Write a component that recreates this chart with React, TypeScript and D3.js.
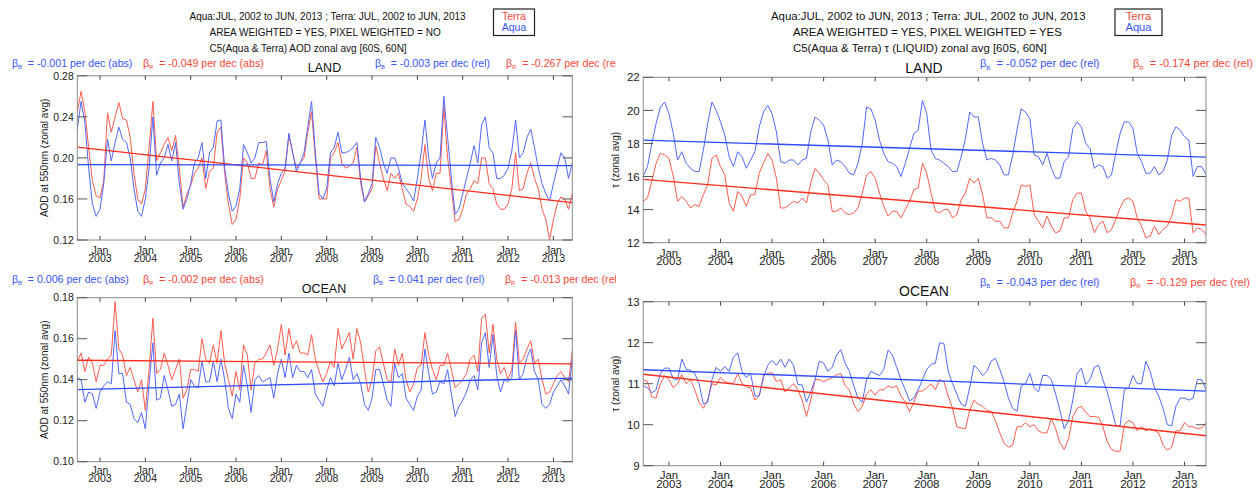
import React from 'react';
import * as d3 from 'd3';

// ---------- DATA ----------
const START_YEAR = 2002.5; // Jul 2002
const yearTicks = [2003, 2004, 2005, 2006, 2007, 2008, 2009, 2010, 2011, 2012, 2013];

const aodLandAqua = [
  0.228,0.255,0.235,0.19,0.155,0.143,0.15,0.175,0.218,0.197,
  0.215,0.23,0.218,0.215,0.2,0.17,0.148,0.143,0.16,0.19,
  0.24,0.183,0.195,0.2,0.213,0.197,0.215,0.175,0.15,0.16,
  0.175,0.195,0.2,0.215,0.18,0.205,0.21,0.236,0.237,0.19,
  0.165,0.148,0.153,0.17,0.213,0.205,0.195,0.2,0.215,0.215,
  0.216,0.18,0.157,0.175,0.185,0.19,0.224,0.205,0.187,0.195,
  0.205,0.23,0.255,0.205,0.165,0.16,0.17,0.205,0.21,0.225,
  0.205,0.205,0.207,0.21,0.215,0.18,0.157,0.165,0.175,0.22,
  0.21,0.195,0.185,0.2,0.2,0.19,0.175,0.17,0.165,0.158,
  0.18,0.205,0.237,0.2,0.18,0.195,0.2,0.26,0.22,0.18,
  0.145,0.15,0.165,0.18,0.195,0.212,0.195,0.232,0.24,0.21,
  0.205,0.18,0.18,0.183,0.19,0.207,0.237,0.2,0.205,0.22,
  0.228,0.21,0.19,0.175,0.165,0.158,0.175,0.19,0.205,0.2,
  0.18,0.195,
];
const aodLandTerra = [
  0.245,0.265,0.245,0.21,0.178,0.163,0.161,0.178,0.244,0.225,
  0.24,0.254,0.238,0.237,0.22,0.185,0.16,0.155,0.17,0.21,
  0.255,0.197,0.205,0.213,0.22,0.207,0.222,0.19,0.152,0.165,
  0.173,0.185,0.19,0.2,0.17,0.187,0.19,0.225,0.23,0.185,
  0.155,0.135,0.14,0.16,0.2,0.195,0.18,0.18,0.195,0.193,
  0.207,0.17,0.152,0.17,0.178,0.188,0.222,0.205,0.19,0.195,
  0.2,0.225,0.245,0.2,0.16,0.16,0.16,0.2,0.205,0.215,
  0.195,0.19,0.192,0.195,0.21,0.175,0.157,0.163,0.17,0.212,
  0.195,0.18,0.168,0.185,0.18,0.185,0.17,0.155,0.153,0.148,
  0.16,0.18,0.213,0.18,0.168,0.185,0.185,0.25,0.2,0.17,
  0.138,0.14,0.15,0.165,0.17,0.178,0.175,0.2,0.2,0.175,
  0.17,0.155,0.15,0.15,0.155,0.17,0.205,0.168,0.17,0.185,
  0.195,0.18,0.17,0.15,0.14,0.12,0.14,0.155,0.162,0.16,
  0.15,0.165,
];
const aodOceanAqua = [
  0.141,0.14,0.129,0.134,0.133,0.126,0.134,0.137,0.139,0.138,
  0.164,0.143,0.143,0.129,0.128,0.121,0.119,0.124,0.116,0.138,
  0.158,0.13,0.131,0.142,0.135,0.127,0.128,0.133,0.116,0.128,
  0.14,0.137,0.136,0.149,0.139,0.139,0.149,0.139,0.15,0.14,
  0.126,0.121,0.133,0.129,0.147,0.137,0.124,0.14,0.142,0.139,
  0.14,0.141,0.131,0.143,0.15,0.141,0.153,0.141,0.147,0.144,
  0.144,0.141,0.145,0.133,0.13,0.127,0.135,0.141,0.137,0.148,
  0.14,0.145,0.151,0.14,0.143,0.138,0.128,0.125,0.131,0.145,
  0.145,0.138,0.13,0.127,0.148,0.141,0.143,0.131,0.128,0.125,
  0.132,0.135,0.155,0.143,0.133,0.134,0.139,0.138,0.145,0.133,
  0.122,0.127,0.13,0.134,0.14,0.142,0.135,0.158,0.163,0.146,
  0.162,0.142,0.134,0.14,0.139,0.141,0.164,0.14,0.143,0.151,
  0.155,0.144,0.14,0.128,0.126,0.128,0.134,0.137,0.14,0.137,
  0.133,0.15,
];
const aodOceanTerra = [
  0.149,0.153,0.144,0.151,0.148,0.139,0.147,0.147,0.15,0.152,
  0.178,0.155,0.152,0.142,0.146,0.14,0.134,0.14,0.125,0.145,
  0.17,0.143,0.145,0.153,0.147,0.14,0.145,0.15,0.131,0.135,
  0.145,0.145,0.144,0.16,0.15,0.148,0.157,0.148,0.164,0.148,
  0.14,0.132,0.144,0.135,0.157,0.152,0.135,0.148,0.15,0.15,
  0.153,0.157,0.147,0.155,0.167,0.152,0.165,0.155,0.159,0.153,
  0.153,0.152,0.162,0.15,0.144,0.139,0.143,0.149,0.146,0.165,
  0.155,0.159,0.163,0.15,0.165,0.158,0.145,0.134,0.14,0.154,
  0.156,0.148,0.14,0.139,0.155,0.147,0.153,0.14,0.134,0.138,
  0.146,0.147,0.163,0.152,0.145,0.14,0.147,0.147,0.153,0.145,
  0.136,0.138,0.14,0.143,0.15,0.152,0.144,0.17,0.172,0.153,
  0.167,0.15,0.143,0.146,0.14,0.145,0.168,0.148,0.15,0.155,
  0.159,0.148,0.15,0.14,0.133,0.134,0.138,0.142,0.144,0.141,
  0.139,0.154,
];
const tauLandAqua = [
  16.0,16.6,18.0,19.2,20.2,20.5,19.8,18.6,17.0,17.5,
  16.8,16.5,16.3,16.3,17.6,19.2,20.5,20.0,19.3,18.5,
  17.2,16.6,17.5,17.2,16.5,17.0,17.5,19.0,19.9,20.3,
  19.8,18.7,16.9,16.8,17.0,17.0,16.7,17.0,17.1,18.7,
  19.6,19.4,19.1,18.2,16.7,17.0,16.9,16.6,16.2,16.1,
  16.8,18.0,20.2,20.1,19.4,18.2,17.4,16.9,16.8,16.6,
  16.0,16.8,17.7,18.6,18.8,20.6,19.8,17.6,17.1,17.0,
  16.8,16.6,16.3,16.3,17.2,18.3,19.9,19.6,19.6,18.0,
  17.0,17.1,17.0,16.7,16.1,16.1,17.3,18.8,20.1,19.9,
  19.5,17.3,17.2,16.7,17.4,16.5,15.9,15.9,16.9,17.2,
  18.9,19.3,19.0,18.0,17.7,16.5,16.7,16.6,15.9,16.1,
  17.4,18.6,19.3,19.3,18.9,17.4,16.9,16.2,16.2,16.6,
  16.1,16.3,17.0,18.5,19.0,18.8,18.4,18.2,16.0,16.6,
  16.6,16.1,
];
const tauLandTerra = [
  14.5,14.7,15.7,16.8,17.4,17.3,17.1,16.0,14.5,14.8,
  14.5,14.1,14.3,14.2,14.9,15.5,17.1,17.3,16.6,16.1,
  14.4,13.9,15.1,14.8,14.2,14.9,14.9,16.2,16.8,17.4,
  17.0,15.9,14.1,14.1,14.3,14.5,14.4,14.7,14.4,15.6,
  16.5,16.2,15.8,15.5,13.9,13.9,14.1,13.8,13.7,13.8,
  14.1,15.0,16.1,16.3,15.9,15.0,14.2,13.6,13.9,13.9,
  13.5,14.0,14.5,15.2,15.3,16.8,16.2,15.0,13.9,13.8,
  14.0,14.0,13.5,13.7,14.6,15.0,15.9,15.6,15.9,14.9,
  13.5,13.5,13.3,13.3,12.9,12.9,13.8,14.5,15.5,15.4,
  15.5,13.7,13.3,12.9,13.6,13.0,12.6,12.7,13.5,13.5,
  14.6,15.0,15.0,13.9,13.5,12.6,13.1,13.3,12.6,12.8,
  13.4,14.1,14.6,14.7,14.5,13.5,13.0,12.3,12.4,13.0,
  12.5,12.8,13.0,13.6,14.6,14.5,14.7,14.7,12.6,12.9,
  12.8,12.5,
];
const tauOceanAqua = [
  10.95,10.9,10.78,10.85,11.25,11.38,11.38,11.12,11.1,11.6,
  11.35,11.33,11.25,11.0,10.5,10.55,11.1,11.4,11.3,11.42,
  11.3,11.65,11.75,11.3,11.15,11.25,10.7,10.7,11.15,11.45,
  11.57,11.45,11.6,11.4,11.6,11.45,10.98,10.97,10.55,10.8,
  11.1,11.55,11.5,11.3,11.4,11.7,11.83,11.5,11.3,10.95,
  10.65,10.55,11.1,11.3,11.25,11.2,11.35,11.82,11.7,11.4,
  11.1,10.85,10.58,10.65,10.85,11.1,11.35,11.47,11.5,12.0,
  11.98,11.3,11.0,10.75,10.5,10.45,10.9,11.45,11.35,11.2,
  11.3,11.55,11.62,11.35,11.05,10.65,10.4,10.33,10.95,11.0,
  11.25,10.9,10.8,11.2,11.2,11.1,10.75,10.35,9.9,10.1,
  10.6,11.25,11.38,10.98,11.1,11.4,11.45,11.1,10.8,10.4,
  9.98,9.97,10.85,10.9,11.2,11.0,11.0,11.55,11.3,10.9,
  10.7,10.4,10.0,9.97,10.45,10.65,10.65,10.6,10.65,11.1,
  11.1,10.85,
];
const tauOceanTerra = [
  11.1,11.05,10.68,10.65,11.0,11.2,11.1,10.9,11.0,11.22,
  11.0,11.1,10.85,10.55,10.4,10.6,11.0,10.97,11.15,11.05,
  11.02,11.0,11.25,11.0,10.92,10.9,10.6,10.7,11.2,11.25,
  11.27,11.05,11.1,10.8,10.9,11.0,10.85,10.6,10.2,10.6,
  11.1,11.1,11.05,11.1,11.15,11.22,11.25,10.95,10.85,10.5,
  10.32,10.45,10.75,10.85,10.72,10.85,10.85,10.95,10.9,10.95,
  10.7,10.55,10.32,10.55,10.82,10.82,10.9,11.0,10.85,11.1,
  11.05,10.7,10.4,9.95,9.92,9.9,10.35,10.6,10.5,10.45,
  10.35,10.32,10.1,9.8,9.55,9.45,9.5,9.95,9.95,10.05,
  9.95,10.0,9.85,9.8,9.8,10.15,9.9,9.55,9.4,9.65,
  10.2,10.4,10.45,10.3,10.2,10.2,10.18,9.95,9.6,9.4,
  9.35,9.35,10.0,10.1,10.05,9.85,9.95,9.85,9.9,9.85,
  9.8,9.5,9.38,9.45,9.85,9.85,10.05,9.95,9.95,9.9,
  9.92,10.05,
];

// trend line values [first month, last month]
const trendAodLandAqua = [0.1935, 0.1925];
const trendAodLandTerra = [0.2105, 0.1565];
const trendAodOceanAqua = [0.1352, 0.1408];
const trendAodOceanTerra = [0.1495, 0.1477];
const trendTauLandAqua = [18.2, 17.17];
const trendTauLandTerra = [15.83, 13.07];
const trendTauOceanAqua = [11.34, 10.82];
const trendTauOceanTerra = [11.23, 9.73];

const yTicksAodLand = [0.12, 0.16, 0.20, 0.24, 0.28];
const yTicksAodOcean = [0.10, 0.12, 0.14, 0.16, 0.18];
const yTicksTauLand = [12, 14, 16, 18, 20, 22];
const yTicksTauOcean = [9, 10, 11, 12, 13];

const headerLeft = [
  'Aqua:JUL, 2002 to JUN, 2013 ; Terra: JUL, 2002 to JUN, 2013',
  'AREA WEIGHTED = YES, PIXEL WEIGHTED = NO',
  'C5(Aqua & Terra) AOD zonal avg [60S, 60N]',
];
const headerRight = [
  'Aqua:JUL, 2002 to JUN, 2013 ; Terra: JUL, 2002 to JUN, 2013',
  'AREA WEIGHTED = YES, PIXEL WEIGHTED = YES',
  'C5(Aqua & Terra) \u03C4 (LIQUID) zonal avg [60S, 60N]',
];
const betaLeftLand = ['-0.001 per dec (abs)', '-0.049 per dec (abs)', '-0.003 per dec (rel)', '-0.267 per dec (rel)'];
const betaLeftOcean = ['0.006 per dec (abs)', '-0.002 per dec (abs)', '0.041 per dec (rel)', '-0.013 per dec (rel)'];
const betaRightLand = ['-0.052 per dec (rel)', '-0.174 per dec (rel)'];
const betaRightOcean = ['-0.043 per dec (rel)', '-0.129 per dec (rel)'];

// ---------- STYLE ----------
const FONT = '"Liberation Sans", Arial, Helvetica, sans-serif';
const RED_LINE = 'rgb(255,92,78)';
const BLUE_LINE = 'rgb(82,104,255)';
const RED_TREND = 'rgb(255,45,30)';
const BLUE_TREND = 'rgb(45,75,255)';
const RED_TEXT = 'rgb(255,70,55)';
const BLUE_TEXT = 'rgb(55,85,255)';

type PanelProps = {
  x0: number; x1: number; y0: number; y1: number;
  yDomain: [number, number]; yTicks: number[]; fmt: (v: number) => string;
  aqua: number[]; terra: number[]; tA: number[]; tT: number[];
  tickFont: number; janDy: number; yearDy: number;
  yLabel: string; yLabelX: number; yLabelFont: number;
};

function Panel(p: PanelProps) {
  const n = p.aqua.length;
  const x = d3.scaleLinear().domain([START_YEAR, START_YEAR + (n - 1) / 12]).range([p.x0, p.x1]);
  const y = d3.scaleLinear().domain(p.yDomain).range([p.y1, p.y0]);
  const line = d3.line<number>().x((_, i) => x(START_YEAR + i / 12)).y((d) => y(d));
  const tx = [x(START_YEAR), x(START_YEAR + (n - 1) / 12)];
  const cy = (p.y0 + p.y1) / 2;
  return (
    <g>
      <path d={line(p.terra) || ''} fill="none" stroke={RED_LINE} strokeWidth={1} />
      <path d={line(p.aqua) || ''} fill="none" stroke={BLUE_LINE} strokeWidth={1} />
      <line x1={tx[0]} x2={tx[1]} y1={y(p.tT[0])} y2={y(p.tT[1])} stroke={RED_TREND} strokeWidth={1.3} />
      <line x1={tx[0]} x2={tx[1]} y1={y(p.tA[0])} y2={y(p.tA[1])} stroke={BLUE_TREND} strokeWidth={1.3} />
      <rect x={p.x0} y={p.y0} width={p.x1 - p.x0} height={p.y1 - p.y0} fill="none" stroke="#8a8a8a" strokeWidth={1} />
      {p.yTicks.map((t) => (
        <g key={'y' + t}>
          <line x1={p.x0} x2={p.x0 + 10} y1={y(t)} y2={y(t)} stroke="#555" strokeWidth={1} />
          <line x1={p.x1 - 10} x2={p.x1} y1={y(t)} y2={y(t)} stroke="#555" strokeWidth={1} />
          <text x={p.x0 - 3.5} y={y(t) + p.tickFont * 0.36} textAnchor="end" fontSize={p.tickFont} fontFamily={FONT} fill="#222">
            {p.fmt(t)}
          </text>
        </g>
      ))}
      {yearTicks.map((yr) => (
        <g key={'x' + yr}>
          <line x1={x(yr)} x2={x(yr)} y1={p.y0} y2={p.y0 + 4} stroke="#444" strokeWidth={1} />
          <line x1={x(yr)} x2={x(yr)} y1={p.y1} y2={p.y1 - 4} stroke="#444" strokeWidth={1} />
          <text x={x(yr)} y={p.y1 + p.janDy} textAnchor="middle" fontSize={p.tickFont} fontFamily={FONT} fill="#222">Jan</text>
          <text x={x(yr)} y={p.y1 + p.yearDy} textAnchor="middle" fontSize={p.tickFont} fontFamily={FONT} fill="#222">{yr}</text>
        </g>
      ))}
      <text
        transform={`translate(${p.yLabelX},${cy}) rotate(-90)`}
        textAnchor="middle"
        fontSize={p.yLabelFont}
        fontFamily={FONT}
        fill="#222"
      >
        {p.yLabel}
      </text>
    </g>
  );
}

function Beta({ x, y, sub, text, color, size }: { x: number; y: number; sub: string; text: string; color: string; size: number }) {
  return (
    <text x={x} y={y} fontSize={size} fontFamily={FONT} fill={color} style={{ whiteSpace: 'pre' }}>
      <tspan>{'\u03B2'}</tspan>
      <tspan fontSize={size * 0.55} dy={size * 0.2}>{sub}</tspan>
      <tspan dy={-size * 0.2}>{'  = ' + text}</tspan>
    </text>
  );
}

function Header({ lines, x1, x2, size }: { lines: string[]; x1: number; x2: number; size: number }) {
  return (
    <g>
      {lines.map((l, i) => (
        <text key={i} x={i === 0 ? x1 : x2} y={19.8 + i * 15.9} fontSize={size} fontFamily={FONT} fill="#111">
          {l}
        </text>
      ))}
    </g>
  );
}

function Legend({ x, w, size }: { x: number; w: number; size: number }) {
  return (
    <g>
      <rect x={x} y={9} width={w} height={26.5} fill="#fff" stroke="#222" strokeWidth={1.2} />
      <text x={x + w / 2} y={20} textAnchor="middle" fontSize={size} fontFamily={FONT} fill={RED_TEXT}>Terra</text>
      <text x={x + w / 2} y={30.6} textAnchor="middle" fontSize={size} fontFamily={FONT} fill={BLUE_TEXT}>Aqua</text>
    </g>
  );
}

const fmt2 = (v: number) => v.toFixed(2);
const fmt0 = (v: number) => d3.format('d')(v);

export default function App() {
  return (
    <svg width={1260} height={489} viewBox="0 0 1260 489" style={{ position: 'absolute', left: 0, top: 0, background: '#fff' }}>
      <defs>
        <clipPath id="leftClip">
          <rect x={0} y={0} width={616} height={489} />
        </clipPath>
      </defs>
      <rect x={0} y={0} width={1260} height={489} fill="#fff" />

      {/* LEFT: AOD */}
      <g clipPath="url(#leftClip)">
        <Header lines={headerLeft} x1={189.5} x2={209.5} size={10} />
        <Legend x={493.5} w={41} size={10.5} />

        <Beta x={12} y={67} sub="B" text={betaLeftLand[0]} color={BLUE_TEXT} size={10.6} />
        <Beta x={143} y={67} sub="R" text={betaLeftLand[1]} color={RED_TEXT} size={10.6} />
        <Beta x={375} y={67} sub="B" text={betaLeftLand[2]} color={BLUE_TEXT} size={10.6} />
        <Beta x={506} y={67} sub="R" text={betaLeftLand[3]} color={RED_TEXT} size={10.6} />
        <text x={324.5} y={72.3} textAnchor="middle" fontSize={12.5} fontFamily={FONT} fill="#111">LAND</text>

        <Panel x0={77.3} x1={572.3} y0={75.8} y1={240} yDomain={[0.12, 0.28]} yTicks={yTicksAodLand} fmt={fmt2}
          aqua={aodLandAqua} terra={aodLandTerra} tA={trendAodLandAqua} tT={trendAodLandTerra}
          tickFont={10.5} janDy={13.6} yearDy={21.9} yLabel="AOD at 550nm (zonal avg)" yLabelX={47.5} yLabelFont={10} />

        <Beta x={12} y={282.6} sub="B" text={betaLeftOcean[0]} color={BLUE_TEXT} size={10.6} />
        <Beta x={143} y={282.6} sub="R" text={betaLeftOcean[1]} color={RED_TEXT} size={10.6} />
        <Beta x={373} y={282.6} sub="B" text={betaLeftOcean[2]} color={BLUE_TEXT} size={10.6} />
        <Beta x={505} y={282.6} sub="R" text={betaLeftOcean[3]} color={RED_TEXT} size={10.6} />
        <text x={324} y={292.6} textAnchor="middle" fontSize={12.5} fontFamily={FONT} fill="#111">OCEAN</text>

        <Panel x0={77.3} x1={572.3} y0={297.7} y1={461.7} yDomain={[0.10, 0.18]} yTicks={yTicksAodOcean} fmt={fmt2}
          aqua={aodOceanAqua} terra={aodOceanTerra} tA={trendAodOceanAqua} tT={trendAodOceanTerra}
          tickFont={10.5} janDy={12} yearDy={20} yLabel="AOD at 550nm (zonal avg)" yLabelX={47.5} yLabelFont={10} />
      </g>

      {/* RIGHT: tau */}
      <Header lines={headerRight} x1={771} x2={793} size={11.4} />
      <Legend x={1115} w={47} size={11.2} />

      <Beta x={980} y={67.3} sub="B" text={betaRightLand[0]} color={BLUE_TEXT} size={11} />
      <Beta x={1133} y={67.3} sub="R" text={betaRightLand[1]} color={RED_TEXT} size={11} />
      <text x={924} y={72.7} textAnchor="middle" fontSize={14} fontFamily={FONT} fill="#111">LAND</text>

      <Panel x0={643.2} x1={1206} y0={77.3} y1={242.7} yDomain={[12, 22]} yTicks={yTicksTauLand} fmt={fmt0}
        aqua={tauLandAqua} terra={tauLandTerra} tA={trendTauLandAqua} tT={trendTauLandTerra}
        tickFont={11.5} janDy={13.8} yearDy={22.6} yLabel={'\u03C4 (zonal avg)'} yLabelX={619} yLabelFont={10} />

      <Beta x={980} y={286} sub="B" text={betaRightOcean[0]} color={BLUE_TEXT} size={11} />
      <Beta x={1130} y={286} sub="R" text={betaRightOcean[1]} color={RED_TEXT} size={11} />
      <text x={924} y={296} textAnchor="middle" fontSize={14} fontFamily={FONT} fill="#111">OCEAN</text>

      <Panel x0={643.2} x1={1206} y0={301.7} y1={465.7} yDomain={[9, 13]} yTicks={yTicksTauOcean} fmt={fmt0}
        aqua={tauOceanAqua} terra={tauOceanTerra} tA={trendTauOceanAqua} tT={trendTauOceanTerra}
        tickFont={11.5} janDy={13.5} yearDy={21.9} yLabel={'\u03C4 (zonal avg)'} yLabelX={619} yLabelFont={10} />
    </svg>
  );
}
